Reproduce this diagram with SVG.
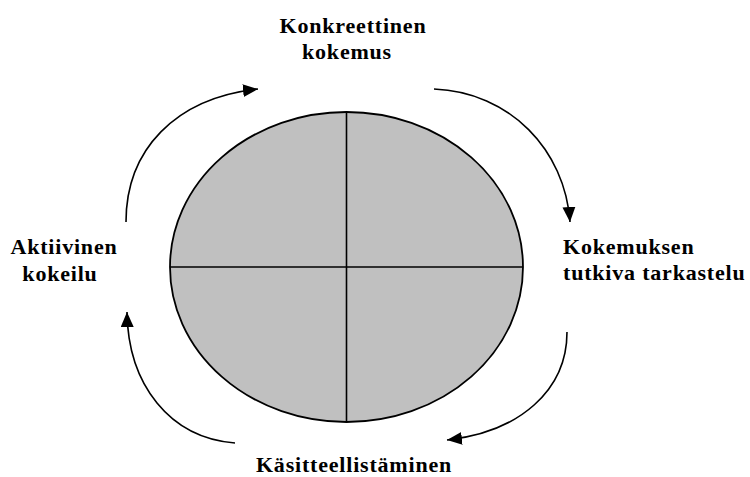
<svg xmlns="http://www.w3.org/2000/svg" width="750" height="477" viewBox="0 0 750 477">
<style>
.lbl{font-family:"Liberation Serif","Times New Roman",serif;font-weight:bold;font-size:22px;fill:#000;letter-spacing:0.8px}
.arc{fill:none;stroke:#000;stroke-width:1.6;marker-end:url(#ah)}
.div{stroke:#000;stroke-width:1.6}
</style>
<defs>
<marker id="ah" markerUnits="userSpaceOnUse" markerWidth="16" markerHeight="14" refX="15" refY="6.5" orient="auto">
<path d="M0,0 L15,6.5 L0,13 z" fill="#000"/>
</marker>
</defs>
<rect width="750" height="477" fill="#fff"/>
<g id="cycle">
<ellipse cx="346.5" cy="267" rx="176.5" ry="155" fill="#c0c0c0" stroke="#000" stroke-width="1.8"/>
<line class="div" x1="346.5" y1="112" x2="346.5" y2="422"/>
<line class="div" x1="170" y1="267" x2="523" y2="267"/>
</g>
<g id="n-konkreettinen">
<text class="lbl" text-anchor="middle" x="353" y="33">Konkreettinen</text>
<text class="lbl" text-anchor="middle" x="347" y="59">kokemus</text>
</g>
<g id="n-kokemuksen">
<text class="lbl" x="563" y="254">Kokemuksen</text>
<text class="lbl" x="563" y="280">tutkiva tarkastelu</text>
</g>
<g id="n-kasitteellistaminen">
<text class="lbl" text-anchor="middle" x="354" y="472">Käsitteellistäminen</text>
</g>
<g id="n-aktiivinen">
<text class="lbl" text-anchor="middle" x="64" y="254">Aktiivinen</text>
<text class="lbl" text-anchor="middle" x="60" y="281">kokeilu</text>
</g>
<g id="connectors">
<path class="arc" d="M126,222 C126,150 175,98 258,89"/>
<path class="arc" d="M434,89 C510,92 565,150 570,222"/>
<path class="arc" d="M567,332 C567,390 520,432 447,440"/>
<path class="arc" d="M235,443 C170,438 128,385 127,312"/>
</g>
</svg>
